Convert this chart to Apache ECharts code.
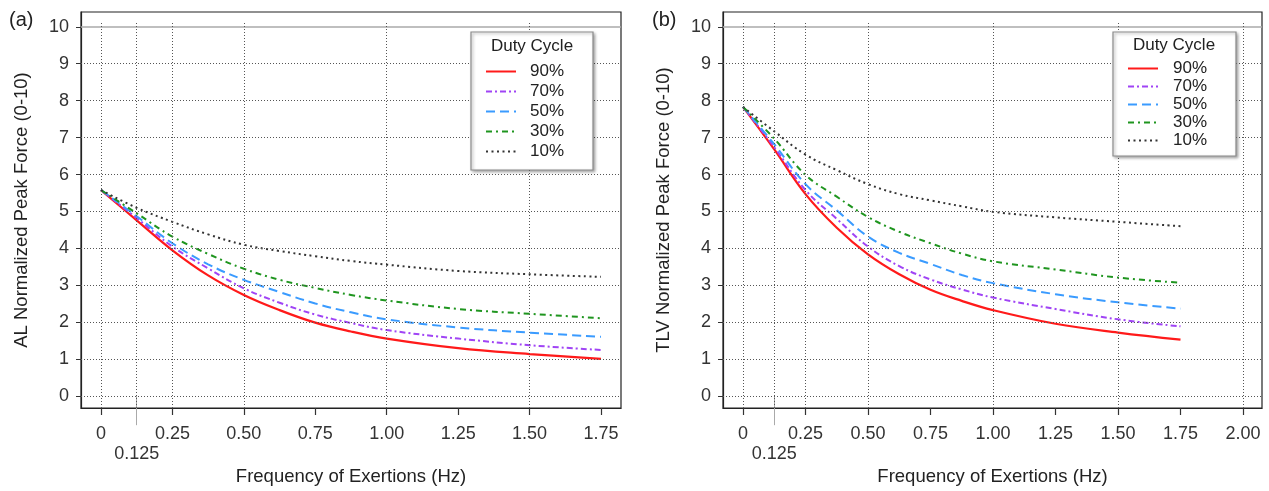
<!DOCTYPE html>
<html><head><meta charset="utf-8">
<script src="https://cdn.jsdelivr.net/npm/echarts@6/dist/echarts.min.js"></script>
<style>html,body{margin:0;padding:0;background:#fff}#c{width:1269px;height:491px}</style>
</head><body><div id="c"></div>
<script>
// ---------- data ----------
const freq = [0, 0.125, 0.25, 0.375, 0.5, 0.625, 0.75, 0.875, 1.0, 1.25, 1.5, 1.75];
const dutyCycles = ['90%', '70%', '50%', '30%', '10%'];

const al90 = [5.58, 4.76, 3.95, 3.27, 2.74, 2.33, 1.99, 1.75, 1.56, 1.30, 1.14, 1.01];
const al70 = [5.58, 4.82, 4.05, 3.46, 2.92, 2.53, 2.21, 1.98, 1.79, 1.56, 1.38, 1.25];
const al50 = [5.58, 4.87, 4.14, 3.57, 3.15, 2.82, 2.51, 2.27, 2.08, 1.86, 1.72, 1.61];
const al30 = [5.58, 4.95, 4.32, 3.85, 3.45, 3.15, 2.93, 2.74, 2.59, 2.36, 2.23, 2.11];
const al10 = [5.58, 5.10, 4.72, 4.38, 4.10, 3.93, 3.79, 3.66, 3.56, 3.39, 3.30, 3.23];

const tlv90 = [7.83, 6.68, 5.47, 4.56, 3.84, 3.30, 2.88, 2.58, 2.33, 1.96, 1.72, 1.53];
const tlv70 = [7.83, 6.74, 5.58, 4.80, 4.05, 3.52, 3.16, 2.89, 2.67, 2.36, 2.08, 1.89];
const tlv50 = [7.83, 6.82, 5.74, 5.03, 4.32, 3.88, 3.58, 3.28, 3.06, 2.76, 2.54, 2.37];
const tlv30 = [7.83, 6.97, 5.99, 5.40, 4.85, 4.45, 4.14, 3.86, 3.65, 3.43, 3.21, 3.07];
const tlv10 = [7.83, 7.17, 6.54, 6.12, 5.74, 5.47, 5.30, 5.14, 4.99, 4.84, 4.72, 4.60];

const yTicks = [0, 1, 2, 3, 4, 5, 6, 7, 8, 9, 10];
const xTicksA = [0, 0.25, 0.5, 0.75, 1.0, 1.25, 1.5, 1.75];
const xTicksB = [0, 0.25, 0.5, 0.75, 1.0, 1.25, 1.5, 1.75, 2.0];
const minorTick = [0.125];
const xGridA = [0, 0.125, 0.25, 0.5, 1.0, 1.5];
const xGridB = [0, 0.125, 0.25, 0.5, 1.0, 1.5, 2.0];

const xTitle = 'Frequency of Exertions (Hz)';
const yTitleA = 'AL Normalized Peak Force (0-10)';
const yTitleB = 'TLV Normalized Peak Force (0-10)';
const legendTitle = 'Duty Cycle';

// ---------- styles ----------
const FONT = '"Liberation Sans", Arial, Helvetica, sans-serif';
const styles = {
  '90%': { color: '#ff1a1a', type: 'solid', width: 2.2 },
  '70%': { color: '#a044f5', type: [6, 3, 2, 3], width: 2 },
  '50%': { color: '#3a9bff', type: [9, 5], width: 2 },
  '30%': { color: '#1f951f', type: [6, 4, 2, 4], width: 2 },
  '10%': { color: '#333333', type: [2, 3.5], width: 2 }
};
const Y_MIN = -0.32, Y_MAX = 10.4;

function fmt(v) { return v === 0 ? '0' : (v === 0.125 ? '0.125' : v.toFixed(2)); }

function curveSeries(name, ys, xi) {
  const s = styles[name];
  return {
    type: 'line', name: name, xAxisIndex: xi, yAxisIndex: xi / 2,
    data: freq.map((x, i) => [x, ys[i]]),
    smooth: 0.4, symbol: 'none', showSymbol: false, z: 3,
    lineStyle: { color: s.color, type: s.type, width: s.width },
    itemStyle: { color: s.color },
    emphasis: { disabled: true }, animation: false
  };
}

function gridSeries(xi, xGrid) {
  const dotted = { color: '#555', type: [1, 2], width: 1 };
  const data = [];
  yTicks.forEach(v => {
    if (v === 10) data.push({ yAxis: v, lineStyle: { color: '#aaa', type: 'solid', width: 1.5 } });
    else data.push({ yAxis: v, lineStyle: dotted });
  });
  xGrid.forEach(v => {
    data.push([{ coord: [v, Y_MIN], lineStyle: dotted }, { coord: [v, 10.13] }]);
  });
  return {
    type: 'line', name: 'grid' + xi, xAxisIndex: xi, yAxisIndex: xi / 2,
    data: [], symbol: 'none', z: 1, silent: true, animation: false,
    markLine: { symbol: 'none', silent: true, label: { show: false }, animation: false,
      emphasis: { disabled: true }, lineStyle: dotted, data: data }
  };
}

function mainX(grid, max, ticks, min) {
  return {
    gridIndex: grid, type: 'value', min: min, max: max, position: 'bottom',
    axisLine: { show: true, onZero: false, lineStyle: { color: '#222', width: 1.2 } },
    axisTick: { show: true, customValues: ticks, length: 7, lineStyle: { color: '#333', width: 1.2 } },
    axisLabel: { customValues: ticks, formatter: fmt, fontSize: 18, color: '#333', margin: 17, fontFamily: FONT },
    splitLine: { show: false },
    name: xTitle, nameLocation: 'middle', nameGap: 59,
    nameTextStyle: { fontSize: 18.5, color: '#222', fontFamily: FONT }
  };
}
function minorX(grid, max, min) {
  return {
    gridIndex: grid, type: 'value', min: min, max: max, position: 'bottom',
    axisLine: { show: false },
    axisTick: { show: true, customValues: minorTick, length: 29, lineStyle: { color: '#aaa', width: 1 } },
    axisLabel: { customValues: minorTick, formatter: fmt, fontSize: 18, color: '#333', margin: 37, fontFamily: FONT },
    splitLine: { show: false }
  };
}
function mainY(grid, title) {
  return {
    gridIndex: grid, type: 'value', min: Y_MIN, max: Y_MAX,
    axisLine: { show: true, onZero: false, lineStyle: { color: '#222', width: 1.2 } },
    axisTick: { show: true, customValues: yTicks, length: 5, lineStyle: { color: '#333', width: 1 } },
    axisLabel: { customValues: yTicks, fontSize: 18, color: '#333', margin: 12, fontFamily: FONT },
    splitLine: { show: false },
    name: title, nameLocation: 'middle', nameGap: 50,
    nameTextStyle: { fontSize: 18.5, color: '#222', fontFamily: FONT }
  };
}

function legendCfg(left, top, gap, pad) {
  return {
    data: dutyCycles, orient: 'vertical', left: left, top: top, padding: 0,
    itemWidth: 30, itemHeight: 14, itemGap: gap, selectedMode: false, z: 12,
    itemStyle: { opacity: 0 },
    textStyle: { fontSize: 17, color: '#222', fontFamily: FONT, lineHeight: 17, padding: [0, 0, 0, pad] }
  };
}
function legendBox(x, y, w, h, cx, ty) {
  return [
    { type: 'rect', x: x, y: y, z: 10, shape: { width: w, height: h },
      style: { fill: '#fff', stroke: '#8a8a8a', lineWidth: 1.2, shadowBlur: 3,
        shadowOffsetX: 1.5, shadowOffsetY: 1.5, shadowColor: 'rgba(0,0,0,0.35)' } },
    { type: 'text', x: cx, y: ty, z: 11,
      style: { text: legendTitle, align: 'center', verticalAlign: 'middle', fontSize: 17, fontFamily: FONT, fill: '#222' } }
  ];
}

const series = [gridSeries(0, xGridA), gridSeries(2, xGridB)];
[al90, al70, al50, al30, al10].forEach((ys, i) => series.push(curveSeries(dutyCycles[i], ys, 0)));
[tlv90, tlv70, tlv50, tlv30, tlv10].forEach((ys, i) => series.push(curveSeries(dutyCycles[i], ys, 2)));

const option = {
  animation: false,
  backgroundColor: '#fff',
  textStyle: { fontFamily: FONT },
  grid: [
    { left: 81, top: 12, width: 540, height: 402, show: true, borderColor: '#222', borderWidth: 1.2, backgroundColor: '#fff' },
    { left: 723, top: 12, width: 539, height: 402, show: true, borderColor: '#222', borderWidth: 1.2, backgroundColor: '#fff' }
  ],
  xAxis: [mainX(0, 1.82, xTicksA, -0.07), minorX(0, 1.82, -0.07), mainX(1, 2.076, xTicksB, -0.08), minorX(1, 2.076, -0.08)],
  yAxis: [mainY(0, yTitleA), mainY(1, yTitleB)],
  legend: [legendCfg(485, 63, 3, 9), legendCfg(1127, 60, 1, 10)],
  graphic: [
    { type: 'text', x: 9, y: 10, style: { text: '(a)', fontSize: 20, fontFamily: FONT, fill: '#222' } },
    { type: 'text', x: 652, y: 10, style: { text: '(b)', fontSize: 20, fontFamily: FONT, fill: '#222' } }
  ].concat(legendBox(471, 32, 122, 138, 532, 46)).concat(legendBox(1113, 32, 123, 124, 1174, 45)),
  series: series
};

const chart = echarts.init(document.getElementById('c'), null, { renderer: 'canvas' });
chart.setOption(option);
</script>
</body></html>
